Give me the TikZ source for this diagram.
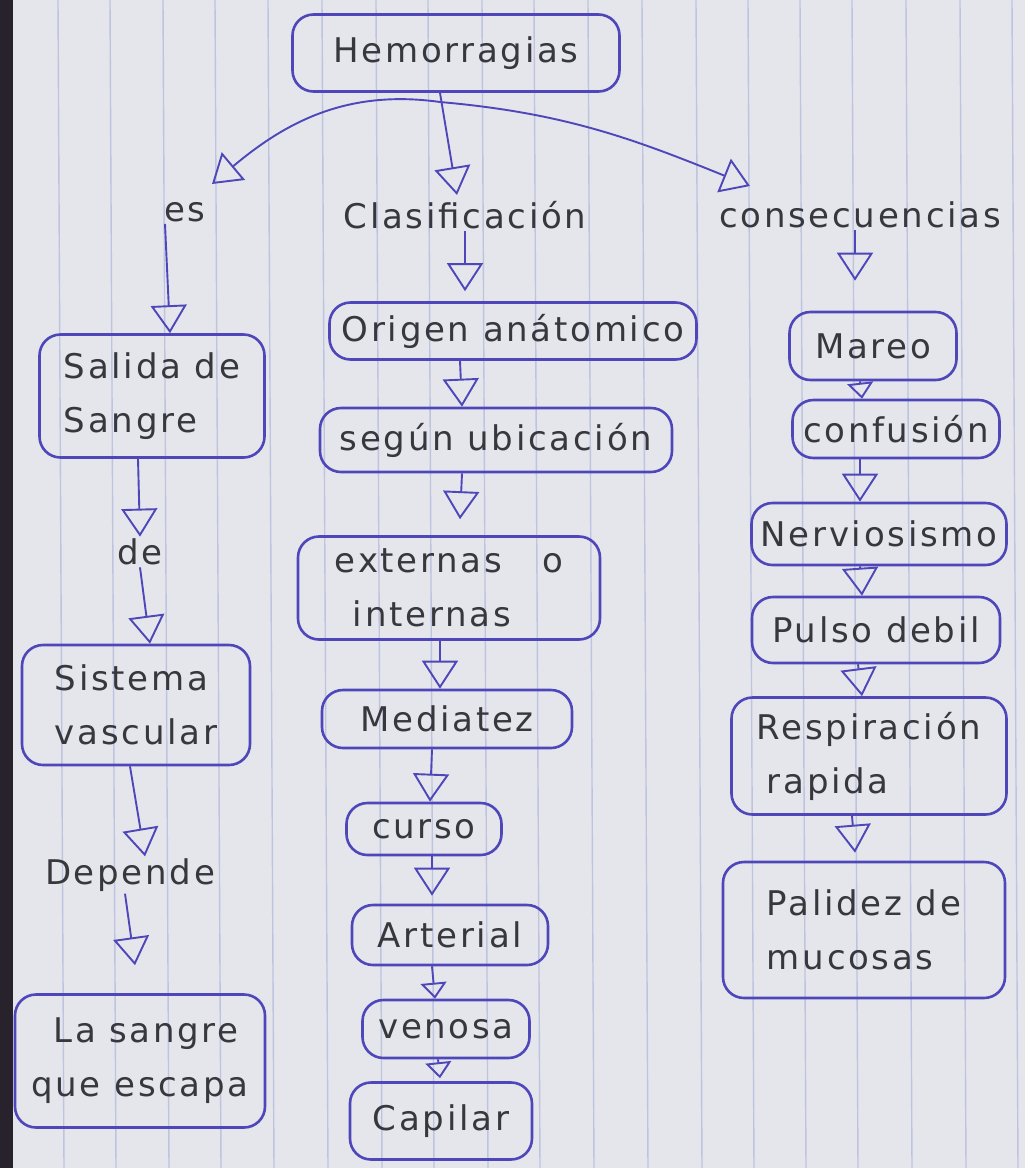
\documentclass[tikz,border=0pt]{standalone}
\usepackage{fontspec}
\newfontfamily\hand[LetterSpace=8]{DejaVu Sans}
\usetikzlibrary{arrows.meta}
\definecolor{ink}{RGB}{78,70,185}
\definecolor{pencil}{RGB}{55,55,62}
\definecolor{paper}{RGB}{228,230,236}
\definecolor{ruling}{RGB}{190,195,224}
\definecolor{edge}{RGB}{40,34,44}
\begin{document}
\begin{tikzpicture}[x=1pt,y=-1pt,
  box/.style={draw=ink, line width=2.6pt, rounded corners=21pt, text=pencil,
    font=\hand\fontsize{34}{54}\selectfont, align=left, inner sep=0pt},
  lbl/.style={text=pencil, font=\hand\fontsize{34}{54}\selectfont, inner sep=2pt},
  arr/.style={draw=ink, line width=1.9pt, -{Triangle[open, length=28pt, width=36pt]}},
  arrs/.style={draw=ink, line width=1.9pt, -{Triangle[open, length=16pt, width=26pt]}}]
\useasboundingbox (0,0) rectangle (1025,1168);
% paper
\fill[paper] (0,0) rectangle (1025,1168);
\foreach \x in {58,110,163,215,268,322,376,428,482,534,588,642,696,748,800,852,906,960,1012}
  \draw[ruling, line width=1.4pt] (\x,0) -- (\x+6,1168);
\fill[edge] (0,0) rectangle (13,1168);

% top
\node[box, minimum width=327pt, minimum height=77pt] (hem) at (456,53) {Hemorragias};
\coordinate (fork) at (440,102);
\node[lbl] (es) at (185,212) {es};
\node[lbl] (clas) at (465,215) {Clasificación};
\node[lbl] (cons) at (860,215) {consecuencias};
\draw[arr] (fork) to[out=172, in=40] (212,184);
\draw[arr] (hem.south -| fork) -- ([xshift=-8pt,yshift=4pt]clas.north);
\draw[arr] (fork) to[out=-5, in=158] (750,186);

% left column
\node[box, minimum width=225pt, minimum height=123pt] (sal) at (152,396) {Salida de\\Sangre};
\node[lbl] (de) at (140,552) {de};
\node[box, minimum width=228pt, minimum height=120pt] (sis) at (136,705) {Sistema\\vascular};
\node[lbl] (dep) at (130,875) {Depende};
\node[box, minimum width=250pt, minimum height=133pt] (lsa) at (140,1061) {\hspace{22pt}La sangre\\que escapa};
\draw[arr] ([xshift=-20pt]es.south) -- ([xshift=18pt]sal.north);
\draw[arr] ([xshift=-14pt]sal.south) -- (de.north);
\draw[arr] (de.south) -- ([xshift=14pt]sis.north);
\draw[arr] ([xshift=-6pt]sis.south) -- ([xshift=15pt]dep.north);
\draw[arr] ([xshift=-5pt]dep.south) -- ([xshift=-5pt,yshift=28pt]lsa.north);

% middle column
\node[box, minimum width=367pt, minimum height=57pt] (ori) at (513,331) {Origen anátomico};
\node[box, minimum width=352pt, minimum height=64pt] (seg) at (496,440) {según ubicación};
\node[box, minimum width=302pt, minimum height=103pt] (ext) at (449,588) {externas\hspace{40pt}o\\\hspace{18pt}internas};
\node[box, minimum width=250pt, minimum height=58pt] (med) at (447,719) {Mediatez};
\node[box, minimum width=155pt, minimum height=52pt] (cur) at (424,829) {curso};
\node[box, minimum width=196pt, minimum height=60pt] (art) at (450,935) {Arterial};
\node[box, minimum width=167pt, minimum height=58pt] (ven) at (446,1029) {venosa};
\node[box, minimum width=182pt, minimum height=77pt] (cap) at (441,1121) {Capilar};
\draw[arr] (clas.south) -- ([xshift=-48pt,yshift=10pt]ori.north);
\draw[arr] ([xshift=-53pt]ori.south) -- ([xshift=-34pt]seg.north);
\draw[arr] ([xshift=-34pt]seg.south) -- ([xshift=11pt,yshift=16pt]ext.north);
\draw[arr] ([xshift=-9pt]ext.south) -- ([xshift=-7pt]med.north);
\draw[arr] ([xshift=-15pt]med.south) -- ([xshift=6pt]cur.north);
\draw[arr] ([xshift=8pt]cur.south) -- ([xshift=-18pt,yshift=8pt]art.north);
\draw[arrs] ([xshift=-18pt]art.south) -- ([xshift=-11pt]ven.north);
\draw[arrs] ([xshift=-8pt]ven.south) -- ([xshift=-1pt,yshift=3pt]cap.north);

% right column
\node[box, minimum width=167pt, minimum height=68pt] (mar) at (873,346) {Mareo};
\node[box, minimum width=207pt, minimum height=58pt] (con) at (896,429) {confusión};
\node[box, minimum width=255pt, minimum height=62pt] (ner) at (879,534) {Nerviosismo};
\node[box, minimum width=248pt, minimum height=66pt] (pul) at (876,630) {Pulso debil};
\node[box, minimum width=275pt, minimum height=117pt] (res) at (869,756) {Respiración\\\hspace{10pt}rapida};
\node[box, minimum width=282pt, minimum height=136pt] (pal) at (864,930) {Palidez de\\mucosas};
\draw[arr] ([xshift=-5pt]cons.south) -- ([xshift=-18pt,yshift=30pt]mar.north);
\draw[arrs] ([xshift=-13pt]mar.south) -- ([xshift=-34pt]con.north);
\draw[arr] ([xshift=-36pt]con.south) -- ([xshift=-19pt]ner.north);
\draw[arr] ([xshift=-19pt]ner.south) -- ([xshift=-14pt]pul.north);
\draw[arr] ([xshift=-18pt]pul.south) -- ([xshift=-7pt]res.north);
\draw[arr] ([xshift=-17pt]res.south) -- ([xshift=-9pt,yshift=8pt]pal.north);
\end{tikzpicture}
\end{document}
